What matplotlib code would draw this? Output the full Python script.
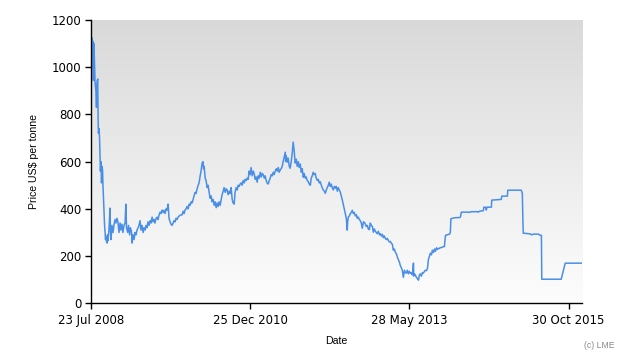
import matplotlib
matplotlib.use("Agg")
import matplotlib.pyplot as plt
import matplotlib.dates as mdates
from matplotlib.colors import LinearSegmentedColormap
import numpy as np
import pandas as pd

# LME price: days after the first date and US$ per tonne
start = "2008-07-23"
days = [
    2, 4, 7, 10, 13, 16, 18, 21, 24, 29,
    32, 35, 39, 41, 43, 46, 49, 52, 54, 57,
    60, 63, 66, 68, 74, 77, 80, 82, 85, 88,
    91, 93, 96, 102, 107, 110, 113, 118, 124, 129,
    135, 140, 146, 151, 157, 163, 168, 174, 179, 185,
    191, 195, 199, 205, 210, 216, 221, 227, 230, 235,
    241, 246, 252, 257, 263, 268, 274, 279, 285, 291,
    296, 302, 307, 313, 318, 324, 330, 335, 341, 346,
    352, 357, 363, 369, 374, 380, 385, 391, 396, 402,
    407, 413, 419, 424, 430, 435, 441, 446, 452, 458,
    463, 469, 474, 480, 485, 496, 508, 513, 519, 524,
    530, 535, 541, 547, 552, 558, 563, 569, 574, 580,
    585, 591, 597, 602, 608, 613, 619, 624, 627, 630,
    636, 641, 647, 652, 658, 663, 669, 674, 680, 686,
    691, 697, 702, 708, 713, 719, 725, 730, 736, 741,
    747, 752, 758, 763, 769, 775, 780, 786, 791, 797,
    802, 808, 814, 819, 825, 830, 836, 841, 847, 853,
    858, 864, 869, 875, 880, 886, 891, 897, 903, 908,
    914, 919, 925, 930, 936, 942, 947, 953, 958, 964,
    969, 975, 980, 986, 992, 997, 1003, 1008, 1014, 1019,
    1025, 1031, 1036, 1042, 1047, 1053, 1058, 1064, 1069, 1075,
    1081, 1083, 1086, 1092, 1097, 1103, 1108, 1114, 1120, 1125,
    1131, 1136, 1142, 1147, 1153, 1158, 1164, 1170, 1175, 1181,
    1186, 1192, 1197, 1203, 1209, 1214, 1220, 1225, 1231, 1236,
    1242, 1247, 1253, 1259, 1264, 1270, 1275, 1281, 1286, 1292,
    1298, 1303, 1309, 1314, 1320, 1325, 1331, 1336, 1342, 1348,
    1353, 1359, 1364, 1370, 1375, 1381, 1387, 1392, 1398, 1403,
    1409, 1414, 1420, 1425, 1428, 1431, 1437, 1442, 1448, 1453,
    1459, 1464, 1470, 1476, 1481, 1487, 1492, 1498, 1503, 1509,
    1515, 1520, 1526, 1531, 1537, 1542, 1548, 1553, 1559, 1565,
    1570, 1576, 1581, 1587, 1592, 1598, 1604, 1609, 1615, 1620,
    1626, 1631, 1637, 1642, 1648, 1654, 1659, 1665, 1670, 1676,
    1681, 1687, 1693, 1698, 1704, 1709, 1715, 1720, 1726, 1731,
    1737, 1743, 1748, 1754, 1759, 1765, 1770, 1776, 1782, 1787,
    1793, 1795, 1798, 1804, 1809, 1815, 1821, 1826, 1832, 1837,
    1843, 1848, 1854, 1859, 1865, 1871, 1876, 1882, 1887, 1893,
    1898, 1904, 1910, 1915, 1921, 1926, 1932, 1937, 1943, 1948,
    1960, 1965, 1971, 1982, 1987, 1993, 1998, 2001, 2009, 2020,
    2037, 2048, 2054, 2059, 2109, 2115, 2148, 2154, 2159, 2181,
    2184, 2193, 2198, 2201, 2226, 2228, 2281, 2284, 2315, 2317,
    2392, 2398, 2401, 2403, 2442, 2448, 2459, 2487, 2498, 2504,
    2506, 2614, 2636, 2725,
]
price = [
    1030, 940, 1124, 1000, 1110, 945, 1100, 1020, 937, 900,
    830, 940, 950, 780, 720, 740, 700, 610, 560, 600,
    510, 580, 560, 500, 390, 330, 300, 270, 280, 260,
    255, 290, 265, 320, 403, 300, 270, 330, 300, 330,
    355, 340, 360, 345, 300, 340, 310, 335, 300, 330,
    340, 420, 320, 300, 330, 290, 320, 300, 255, 290,
    270, 300, 290, 310, 320, 330, 350, 310, 330, 300,
    320, 310, 330, 320, 345, 330, 350, 340, 365, 345,
    355, 340, 360, 365, 355, 375, 386, 380, 395, 385,
    394, 380, 400, 395, 420, 360, 345, 335, 330, 340,
    350, 345, 360, 355, 365, 373, 375, 390, 380, 395,
    400, 410, 400, 420, 415, 430, 425, 440, 455, 470,
    465, 485, 500, 510, 540, 560, 594, 600, 570, 580,
    530, 520, 490, 500, 470, 445, 455, 430, 440, 415,
    430, 405, 425, 410, 430, 415, 440, 460, 475, 490,
    470, 485, 480, 460, 475, 465, 490, 440, 425, 420,
    470, 490, 480, 500, 495, 505, 510, 500, 520, 510,
    525, 520, 530, 525, 560, 545, 575, 540, 560, 550,
    525, 535, 513, 540, 530, 555, 535, 550, 545, 530,
    540, 520, 510, 505, 520, 530, 545, 540, 555, 545,
    560, 570, 560, 575, 555, 565, 570, 580, 600, 620,
    640, 600, 625, 598, 615, 580, 572, 600, 640, 683,
    640, 594, 610, 580, 600, 575, 590, 555, 570, 534,
    550, 530, 535, 520, 515, 505, 500, 530, 540, 555,
    545, 550, 530, 520, 525, 510, 515, 500, 490, 480,
    475, 466, 480, 490, 500, 513, 495, 505, 490, 480,
    495, 488, 495, 475, 490, 480, 470, 455, 437, 420,
    400, 381, 360, 310, 350, 365, 370, 380, 385, 394,
    380, 385, 370, 375, 360, 365, 355, 350, 340, 318,
    345, 343, 335, 325, 330, 315, 312, 340, 330, 325,
    301, 315, 305, 300, 295, 305, 290, 295, 285, 292,
    278, 285, 275, 270, 275, 265, 260, 262, 254, 250,
    225, 230, 215, 210, 195, 185, 175, 160, 150, 140,
    110, 140, 130, 128, 140, 125, 135, 127, 130, 120,
    170, 115, 125, 120, 110, 105, 98, 120, 125, 115,
    130, 128, 135, 140, 138, 148, 185, 200, 212, 205,
    225, 215, 230, 220, 235, 228, 233, 232, 236, 236,
    240, 240, 288, 290, 292, 292, 300, 358, 360, 362,
    363, 363, 365, 386, 386, 388, 388, 386, 390, 392,
    407, 407, 395, 407, 407, 437, 440, 454, 454, 479,
    479, 466, 350, 297, 294, 290, 293, 293, 288, 288,
    102, 102, 170, 170,
]
tick_dates = ["2008-07-23", "2010-12-25", "2013-05-28", "2015-10-30"]
yticks = [0, 200, 400, 600, 800, 1000, 1200]

dates = pd.Timestamp(start) + pd.to_timedelta(days, unit="D")

fig = plt.figure(figsize=(6.3, 3.6), dpi=100)
ax = fig.add_axes([0.144, 0.1575, 0.7794, 0.787])

# grey gradient behind the plot
grad = LinearSegmentedColormap.from_list("bg", ["#fdfdfd", "#d9d9d9"])
ax.imshow(np.linspace(0, 1, 256).reshape(-1, 1), cmap=grad, origin="lower",
          extent=[0, 1, 0, 1], transform=ax.transAxes, aspect="auto", zorder=0)

ax.plot(dates, price, color="#4a8fe7", lw=1.1, zorder=2)

ax.set_xlim(pd.Timestamp(start), pd.Timestamp(start) + pd.Timedelta(days=2728))
ax.set_ylim(0, 1200)
ax.set_xticks(pd.to_datetime(tick_dates))
ax.xaxis.set_major_formatter(mdates.DateFormatter("%d %b %Y"))
ax.set_yticks(yticks)

for s in ["top", "right"]:
    ax.spines[s].set_visible(False)
for s in ["left", "bottom"]:
    ax.spines[s].set_color("black")
    ax.spines[s].set_linewidth(1.0)

ax.tick_params(axis="y", length=4.5, width=1.0, pad=2, labelsize=8.5)
ax.tick_params(axis="x", length=4.5, width=1.0, pad=3, labelsize=8.5)

ax.set_xlabel("Date", fontsize=7.6, family="Liberation Sans", labelpad=7)
ax.set_ylabel("Price US$ per tonne", fontsize=7.6, family="Liberation Sans", labelpad=9)

fig.text(0.975, 0.04, "(c) LME", fontsize=6.2, color="#8a8a8a",
         ha="right", va="center", family="Liberation Sans")

fig.savefig("out.png", dpi=100)
